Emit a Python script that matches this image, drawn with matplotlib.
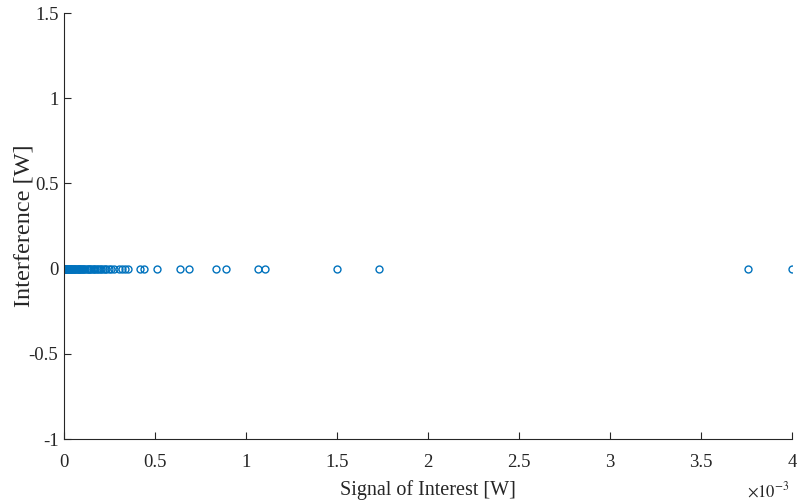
import matplotlib
matplotlib.use("Agg")
import matplotlib.pyplot as plt
from matplotlib.ticker import FixedLocator, FixedFormatter

# Signal of interest values (in units of 1e-3 W)
signal_e3 = [
    0.000, 0.002, 0.004, 0.006, 0.008, 0.010, 0.012, 0.014, 0.016, 0.018,
    0.020, 0.023, 0.026, 0.029, 0.032, 0.035, 0.038, 0.041, 0.045, 0.049,
    0.053, 0.057, 0.061, 0.065, 0.070, 0.075, 0.080, 0.085, 0.090, 0.095,
    0.100, 0.106, 0.112, 0.118, 0.124, 0.130, 0.137, 0.144, 0.151, 0.158,
    0.165, 0.172, 0.180, 0.188, 0.196, 0.205, 0.214, 0.223, 0.232, 0.245,
    0.258, 0.272, 0.300, 0.320, 0.335, 0.350, 0.420, 0.440, 0.510, 0.640,
    0.687, 0.835, 0.890, 1.065, 1.105, 1.500, 1.730, 3.760, 4.000,
]
signal = [v * 1e-3 for v in signal_e3]
interference = [0.0] * len(signal)

xticks_e3 = [0, 0.5, 1, 1.5, 2, 2.5, 3, 3.5, 4]
xtick_labels = ["0", "0.5", "1", "1.5", "2", "2.5", "3", "3.5", "4"]
yticks = [-1, -0.5, 0, 0.5, 1, 1.5]
ytick_labels = ["-1", "-0.5", "0", "0.5", "1", "1.5"]

plt.rcParams['font.family'] = ['Liberation Serif', 'DejaVu Serif']

fig = plt.figure(figsize=(7.97, 5.04), dpi=100)
ax = fig.add_axes([64/797, 65/504, 728/797, 426/504])

ax.plot(signal, interference, linestyle='none', marker='o', markersize=5,
        markerfacecolor='none', markeredgecolor='#0072BD', markeredgewidth=1.0)

ax.set_xlim(0, 4e-3)
ax.set_ylim(-1, 1.5)
ax.xaxis.set_major_locator(FixedLocator([v * 1e-3 for v in xticks_e3]))
ax.xaxis.set_major_formatter(FixedFormatter(xtick_labels))
ax.yaxis.set_major_locator(FixedLocator(yticks))
ax.yaxis.set_major_formatter(FixedFormatter(ytick_labels))

for s in ['top', 'right']:
    ax.spines[s].set_visible(False)
for s in ['left', 'bottom']:
    ax.spines[s].set_color('#262626')
    ax.spines[s].set_linewidth(0.8)
ax.tick_params(direction='in', length=5, width=0.8, color='#262626',
               labelsize=13.5, labelcolor='#262626')
ax.tick_params(axis='x', pad=11)
ax.tick_params(axis='y', pad=4)

ax.set_xlabel("Signal of Interest [W]", fontsize=14.5, color='#262626', labelpad=6)
ax.set_ylabel("Interference [W]", fontsize=17.5, color='#262626', labelpad=-4)

fig.text(790/797, 1 - 491/504, r"$\times10^{-3}$", fontsize=12, color='#262626',
         ha='right', va='center', family='serif',
         math_fontfamily='stix')

fig.savefig("out.png", dpi=100)
